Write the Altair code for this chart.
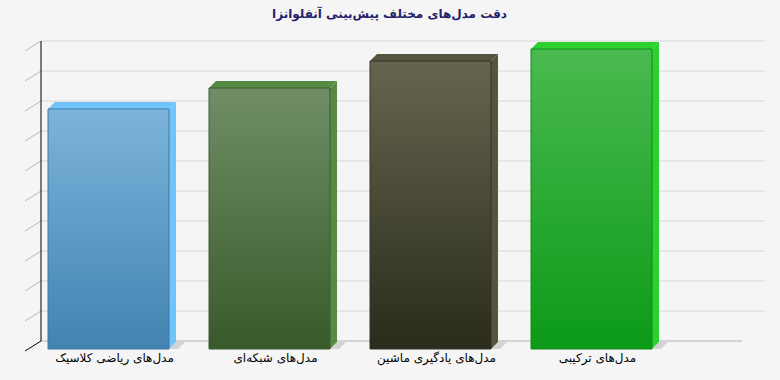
import altair as alt
import pandas as pd

# ---- data ----
title_text = "دقت مدل‌های مختلف پیش‌بینی آنفلوانزا"
categories = [
    "مدل‌های ریاضی کلاسیک",
    "مدل‌های شبکه‌ای",
    "مدل‌های یادگیری ماشین",
    "مدل‌های ترکیبی",
]
values = [80, 87, 96, 100]
grid_values = [0, 10, 20, 30, 40, 50, 60, 70, 80, 90, 100]

# ---- styles ----
front_top = ["#7cb4db", "#6f8e66", "#65654f", "#4aba50"]
front_bottom = ["#4283b1", "#385a2b", "#2b2b1c", "#0c9a17"]
side_colors = ["#70c3fb", "#578a45", "#55553f", "#2cd02f"]
top_colors = ["#8acbf8", "#62924f", "#60604a", "#42cd46"]
edge_colors = ["#3f78a4", "#3d5c31", "#32322a", "#108a1a"]

W, H = 755, 325
PX_X = 161.0          # pixels per category step
PX_Y = 3.0            # pixels per value unit
X_DOM = [-88.5 / PX_X, (W - 88.5) / PX_X]
Y_DOM = [-6 / PX_Y, (H - 6) / PX_Y]
HALF = 60.5 / PX_X
DX = 7 / PX_X
DY = 7 / PX_Y
SHADOW = 9 / PX_X

xs = alt.Scale(domain=X_DOM, nice=False, zero=False)
ys = alt.Scale(domain=Y_DOM, nice=False, zero=False)

bars = pd.DataFrame({
    "cat": categories,
    "idx": list(range(len(categories))),
    "value": values,
})
bars["L"] = bars["idx"] - HALF
bars["R"] = bars["idx"] + HALF
bars["zero"] = 0

top_rows, side_rows, shadow_rows = [], [], []
for _, r in bars.iterrows():
    L, R, T = r["L"], r["R"], r["value"]
    for x, y, y2 in [(L, T, T), (L + DX, T, T + DY), (R, T, T + DY), (R + DX, T + DY, T + DY)]:
        top_rows.append({"cat": r["cat"], "x": x, "y": y, "y2": y2})
    for x, y, y2 in [(R, 0, T), (R + DX, DY, T + DY)]:
        side_rows.append({"cat": r["cat"], "x": x, "y": y, "y2": y2})
    for x, y, y2 in [(R, 0, 0), (R + DX, 0, DY), (R + SHADOW, 0, DY), (R + SHADOW + DX, DY, DY)]:
        shadow_rows.append({"cat": r["cat"], "x": x, "y": y, "y2": y2})
top_df = pd.DataFrame(top_rows)
side_df = pd.DataFrame(side_rows)
shadow_df = pd.DataFrame(shadow_rows)
grid_df = pd.DataFrame({"g": grid_values})

layers = []

# back-wall grid lines
layers.append(
    alt.Chart(grid_df).transform_filter("datum.g > 0").mark_rule(
        color="#d8d8d8", strokeWidth=1, yOffset=-8
    ).encode(x=alt.value(21), x2=alt.value(745), y=alt.Y("g:Q", scale=ys, axis=None))
)
layers.append(
    alt.Chart(grid_df).transform_filter("datum.g == 0").mark_rule(
        color="#b3b3b3", strokeWidth=1, yOffset=-8
    ).encode(x=alt.value(21), x2=alt.value(722), y=alt.Y("g:Q", scale=ys, axis=None))
)
# left diagonal ticks
layers.append(
    alt.Chart(grid_df).transform_filter("datum.g > 0").mark_rule(
        color="#b8b8b8", strokeWidth=1, yOffset=2, y2Offset=-8
    ).encode(x=alt.value(5), x2=alt.value(21),
             y=alt.Y("g:Q", scale=ys, axis=None), y2="g:Q")
)
layers.append(
    alt.Chart(grid_df).transform_filter("datum.g == 0").mark_rule(
        color="#000000", strokeWidth=1, yOffset=2, y2Offset=-8
    ).encode(x=alt.value(5), x2=alt.value(21),
             y=alt.Y("g:Q", scale=ys, axis=None), y2="g:Q")
)
# vertical back axis line
layers.append(
    alt.Chart(grid_df).transform_aggregate(lo="min(g)", hi="max(g)").mark_rule(
        color="#000000", strokeWidth=1, yOffset=-8, y2Offset=-8
    ).encode(x=alt.value(21), y=alt.Y("lo:Q", scale=ys, axis=None), y2="hi:Q")
)

# floor shadows
layers.append(
    alt.Chart(shadow_df).mark_area(color="#d4d4d4", opacity=1, interpolate="linear").encode(
        x=alt.X("x:Q", scale=xs, axis=None),
        y=alt.Y("y:Q", scale=ys, axis=None), y2="y2:Q",
        detail="cat:N",
    )
)

color_side = alt.Color("cat:N", scale=alt.Scale(domain=categories, range=side_colors), legend=None)
color_top = alt.Color("cat:N", scale=alt.Scale(domain=categories, range=top_colors), legend=None)

# side faces
layers.append(
    alt.Chart(side_df).mark_area(opacity=1, interpolate="linear").encode(
        x=alt.X("x:Q", scale=xs, axis=None),
        y=alt.Y("y:Q", scale=ys, axis=None), y2="y2:Q",
        color=color_side, detail="cat:N",
    )
)
# top faces
layers.append(
    alt.Chart(top_df).mark_area(opacity=1, interpolate="linear").encode(
        x=alt.X("x:Q", scale=xs, axis=None),
        y=alt.Y("y:Q", scale=ys, axis=None), y2="y2:Q",
        color=color_top, detail="cat:N",
    )
)

# front faces with gradients
for i, c in enumerate(categories):
    grad = alt.Gradient(
        gradient="linear",
        stops=[alt.GradientStop(color=front_top[i], offset=0),
               alt.GradientStop(color=front_bottom[i], offset=1)],
        x1=0, x2=0, y1=0, y2=1,
    )
    layers.append(
        alt.Chart(bars).transform_filter(alt.datum.cat == c).mark_rect(
            fill=grad, stroke=edge_colors[i], strokeWidth=1
        ).encode(
            x=alt.X("L:Q", scale=xs, axis=None), x2="R:Q",
            y=alt.Y("value:Q", scale=ys, axis=None), y2="zero:Q",
        )
    )

# category labels
layers.append(
    alt.Chart(bars).mark_text(
        font="DejaVu Sans", fontSize=12, color="#000000", dx=6, baseline="middle"
    ).encode(x=alt.X("idx:Q", scale=xs, axis=None), y=alt.value(328), text="cat:N")
)

chart = alt.layer(*layers).properties(
    width=W, height=H,
    autosize=alt.AutoSizeParams(type="none"),
    padding={"left": 20, "top": 30, "right": 5, "bottom": 25},
    background="#f5f5f5",
    title=alt.TitleParams(
        title_text, font="DejaVu Sans", fontSize=12, fontWeight="bold",
        color="#22226a", anchor="middle", dx=-8, offset=9,
    ),
).configure_view(stroke=None)

chart.save("out.html", embed_options={"renderer": "svg", "actions": False})
